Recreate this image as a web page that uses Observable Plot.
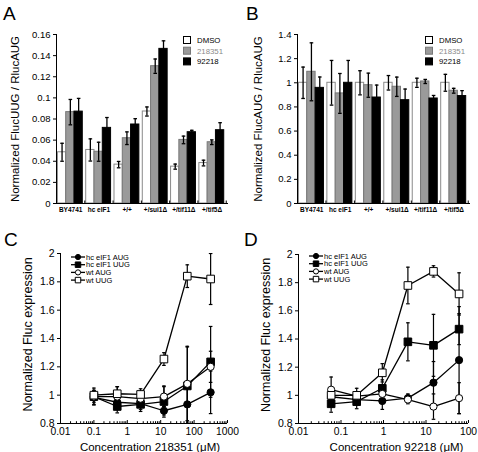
<!DOCTYPE html>
<html><head><meta charset="utf-8">
<script src="https://cdn.jsdelivr.net/npm/d3@7"></script>
<script src="https://cdn.jsdelivr.net/npm/@observablehq/plot@0.6"></script>
<style>
body{margin:0;background:#fff;}
#fig{position:relative;width:478px;height:452px;font-family:"Liberation Sans",Arial,Helvetica,sans-serif;overflow:hidden;background:#fff;color:#000}
.panel{position:absolute}
.letter{position:absolute;font-size:19px;line-height:19px}
.legend{position:absolute;overflow:visible}
</style></head><body><div id="fig"></div>
<script>
const FONT = '"Liberation Sans", Arial, Helvetica, sans-serif';

// ---- Panels A & B: bar charts ----
const categories = ["BY4741", "hc eIF1", "+/+", "+/sui1Δ", "+/tif11Δ", "+/tif5Δ"];
const treatments = ["DMSO", "218351", "92218"];

const uugDMSO      = [0.0485, 0.0507, 0.0368, 0.0871, 0.0349, 0.0383];
const uugDMSOErr   = [0.0085, 0.0105, 0.0030, 0.0043, 0.0024, 0.0027];
const uug218351    = [0.0865, 0.0490, 0.0618, 0.1300, 0.0602, 0.0580];
const uug218351Err = [0.0120, 0.0090, 0.0060, 0.0068, 0.0036, 0.0022];
const uug92218     = [0.0870, 0.0716, 0.0748, 0.1464, 0.0675, 0.0694];
const uug92218Err  = [0.0125, 0.0098, 0.0055, 0.0076, 0.0018, 0.0071];

const augDMSO      = [1.000, 1.000, 1.000, 1.000, 1.000, 1.000];
const augDMSOErr   = [0.130, 0.185, 0.100, 0.060, 0.038, 0.070];
const aug218351    = [1.091, 0.912, 0.980, 0.967, 1.011, 0.934];
const aug218351Err = [0.240, 0.165, 0.100, 0.080, 0.017, 0.020];
const aug92218     = [0.958, 1.000, 0.878, 0.856, 0.870, 0.890];
const aug92218Err  = [0.090, 0.185, 0.103, 0.092, 0.025, 0.045];

const ticksA = [0, 0.02, 0.04, 0.06, 0.08, 0.1, 0.12, 0.14, 0.16];
const ticksB = [0, 0.2, 0.4, 0.6, 0.8, 1, 1.2, 1.4];

// ---- Panels C & D: dose response ----
const seriesNames = ["hc eIF1 AUG", "hc eIF1 UUG", "wt AUG", "wt UUG"];
const concC = [0.1, 0.5, 2.5, 12.5, 62.5, 312.5];
const cHcAUG    = [0.985, 0.950, 0.940, 0.890, 0.935, 1.020];
const cHcAUGErr = [0.050, 0.040, 0.040, 0.030, 0.140, 0.150];
const cHcUUG    = [0.990, 0.920, 0.935, 0.955, 1.065, 1.235];
const cHcUUGErr = [0.060, 0.045, 0.050, 0.110, 0.280, 0.250];
const cWtAUG    = [0.990, 0.990, 0.975, 0.990, 1.080, 1.200];
const cWtAUGErr = [0.040, 0.070, 0.050, 0.070, 0.260, 0.110];
const cWtUUG    = [1.000, 1.010, 1.005, 1.255, 1.840, 1.820];
const cWtUUGErr = [0.030, 0.050, 0.040, 0.045, 0.080, 0.180];

const concD = [0.0586, 0.234, 0.9375, 3.75, 15, 60];
const dHcAUG    = [0.990, 0.970, 0.960, 0.980, 1.090, 1.250];
const dHcAUGErr = [0.040, 0.030, 0.060, 0.030, 0.150, 0.380];
const dHcUUG    = [0.940, 0.955, 1.050, 1.380, 1.355, 1.470];
const dHcUUGErr = [0.060, 0.050, 0.060, 0.135, 0.220, 0.110];
const dWtAUG    = [1.040, 0.995, 1.010, 0.970, 0.920, 0.980];
const dWtAUGErr = [0.090, 0.030, 0.030, 0.030, 0.090, 0.110];
const dWtUUG    = [1.000, 1.000, 1.160, 1.780, 1.880, 1.720];
const dWtUUGErr = [0.030, 0.050, 0.065, 0.130, 0.040, 0.150];

const ticksXC = [0.01, 0.1, 1, 10, 100, 1000];
const ticksXD = [0.01, 0.1, 1, 10, 100];
const ticksYCD = [0.8, 1, 1.2, 1.4, 1.6, 1.8, 2];

// ---- styles ----
const barFill = {"DMSO": "#ffffff", "218351": "#9a9a9a", "92218": "#000000"};
const barStroke = {"DMSO": "#8a8a8a", "218351": "#777777", "92218": "#000000"};
const legendText = {"DMSO": "#000", "218351": "#8a8a8a", "92218": "#000"};
const capSymbol = {draw(ctx, size) { const w = Math.sqrt(size / Math.PI); ctx.moveTo(-w, 0); ctx.lineTo(w, 0); }};
const fmt = d => String(+d.toFixed(2));
const fig = document.getElementById("fig");

function place(node, left, top) {
  node.classList.add("panel");
  node.style.left = left + "px"; node.style.top = top + "px";
  fig.appendChild(node);
}
function letter(txt, left, top) {
  const d = document.createElement("div");
  d.className = "letter"; d.textContent = txt;
  d.style.left = left + "px"; d.style.top = top + "px";
  fig.appendChild(d);
}

const BAR_W = 0.293, GROUP_OFF = 0.05;
function barRows(means, errs) {
  const rows = [];
  categories.forEach((c, i) => treatments.forEach((t, j) => {
    const v = means[j][i], e = errs[j][i];
    const x1 = i + GROUP_OFF + j * BAR_W;
    rows.push({cat: c, t, x1, x2: x1 + BAR_W, xc: x1 + BAR_W / 2, value: v, lo: v - e, hi: v + e});
  }));
  return rows;
}

function barPanel(rows, yDomain, yTicks, yLabel, m) {
  return Plot.plot({
    width: 239, height: 225,
    marginLeft: m.left, marginRight: m.right, marginTop: 34, marginBottom: 22,
    style: {fontFamily: FONT, fontSize: "9.5px", background: "transparent", color: "#000", overflow: "visible"},
    x: {domain: [0, 6.08], axis: null},
    y: {domain: yDomain, axis: null},
    marks: [
      Plot.rectY(rows, {x1: "x1", x2: "x2", y: "value", fill: d => barFill[d.t], stroke: d => barStroke[d.t], strokeWidth: 1}),
      Plot.ruleX(rows, {x: "xc", y1: "lo", y2: "hi", stroke: "#000", strokeWidth: 1.3}),
      Plot.dot(rows, {x: "xc", y: "hi", symbol: capSymbol, r: 1.8, stroke: "#000", strokeWidth: 1.3}),
      Plot.dot(rows, {x: "xc", y: "lo", symbol: capSymbol, r: 1.8, stroke: "#000", strokeWidth: 1.3}),
      Plot.ruleX([0], {stroke: "#000", strokeWidth: 1}),
      Plot.ruleY([yDomain[0]], {stroke: "#000", strokeWidth: 1}),
      Plot.axisY({ticks: yTicks, tickFormat: fmt, tickSize: 3, tickPadding: 3, label: null, fontSize: 9.5}),
      Plot.axisX({ticks: d3.range(1, 7), tickSize: -2.5, fill: "none", label: null}),
      Plot.axisX({ticks: categories.map((c, i) => i + 0.5), tickFormat: v => categories[Math.floor(v)], tickSize: 0, tickPadding: 4, label: null, fontSize: 6.5, fontWeight: "bold"}),
      Plot.text([yLabel], {frameAnchor: "left", textAnchor: "middle", lineAnchor: "middle", rotate: -90, dx: m.labelDx, dy: 0, fontSize: 11.5, text: d => d})
    ]
  });
}

function barLegend(left, top) {
  const svg = d3.create("svg").attr("class", "legend").attr("width", 60).attr("height", 34)
    .style("left", left + "px").style("top", top + "px");
  treatments.forEach((t, j) => {
    const g = svg.append("g").attr("transform", `translate(0.5,${j * 10.7 + 0.5})`);
    g.append("rect").attr("width", 7).attr("height", 7).attr("fill", barFill[t]).attr("stroke", t === "DMSO" ? "#000" : barStroke[t]).attr("stroke-width", 1);
    g.append("text").attr("x", 13.5).attr("y", 3.6).attr("dy", "0.35em").attr("font-size", 7.8)
      .attr("font-family", FONT).attr("fill", legendText[t]).text(t);
  });
  fig.appendChild(svg.node());
}

const rowsA = barRows([uugDMSO, uug218351, uug92218], [uugDMSOErr, uug218351Err, uug92218Err]);
const rowsB = barRows([augDMSO, aug218351, aug92218], [augDMSOErr, aug218351Err, aug92218Err]);

place(barPanel(rowsA, [0, 0.16], ticksA, "Normalized FlucUUG / RlucAUG", {left: 56, right: 11, labelDx: -41}), 0, 0);
place(barPanel(rowsB, [0, 1.4], ticksB, "Normalized FlucAUG / RlucAUG", {left: 58, right: 8, labelDx: -39}), 239, 0);
barLegend(182.5, 36);
barLegend(424.5, 36);

// ---- dose response panels ----
const markerStyle = {
  "hc eIF1 AUG": {symbol: "circle", fill: "#000", r: 3.6},
  "hc eIF1 UUG": {symbol: "square", fill: "#000", r: 4.3},
  "wt AUG": {symbol: "circle", fill: "#fff", r: 3.6},
  "wt UUG": {symbol: "square", fill: "#fff", r: 4.3}
};
function doseRows(conc, means, errs) {
  const rows = [];
  seriesNames.forEach((s, k) => conc.forEach((x, i) => {
    const y = means[k][i], e = errs[k][i];
    rows.push({series: s, x, y, lo: y - e, hi: y + e});
  }));
  return rows;
}
function minorTicks(lo, hi) {
  const out = [];
  for (let p = Math.log10(lo); p < Math.log10(hi); p++) for (let k = 2; k <= 9; k++) out.push(k * Math.pow(10, p));
  return out;
}
function dosePanel(rows, xDomain, xTicks, xLabel, m) {
  const dots = seriesNames.map(s => {
    const st = markerStyle[s];
    return Plot.dot(rows.filter(d => d.series === s), {x: "x", y: "y", symbol: st.symbol, r: st.r, fill: st.fill, stroke: "#000", strokeWidth: 1});
  });
  return Plot.plot({
    width: 239, height: 227,
    marginLeft: m.left, marginRight: m.right, marginTop: m.top, marginBottom: m.bottom,
    style: {fontFamily: FONT, fontSize: "10px", background: "transparent", color: "#000", overflow: "visible"},
    x: {type: "log", domain: xDomain, axis: null},
    y: {domain: [0.8, 2], axis: null},
    marks: [
      Plot.ruleX([xDomain[0]], {stroke: "#000", strokeWidth: 1}),
      Plot.ruleY([0.8], {stroke: "#000", strokeWidth: 1}),
      Plot.axisY({ticks: ticksYCD, tickFormat: fmt, tickSize: 3, tickPadding: 3, label: null, fontSize: 10.5}),
      Plot.axisX({ticks: xTicks, tickSize: -3, fill: "none", label: null}),
      Plot.axisX({ticks: minorTicks(xDomain[0], xDomain[1]), tickSize: -1.8, fill: "none", label: null}),
      Plot.axisX({ticks: xTicks, tickFormat: d => String(d), tickSize: 0, tickPadding: 4, label: null, fontSize: 10.3}),
      Plot.line(rows, {x: "x", y: "y", z: "series", stroke: "#000", strokeWidth: 1.3}),
      Plot.ruleX(rows, {x: "x", y1: "lo", y2: "hi", stroke: "#000", strokeWidth: 1.2, clip: true}),
      Plot.dot(rows, {x: "x", y: "hi", symbol: capSymbol, r: 1.8, stroke: "#000", strokeWidth: 1.2, clip: true}),
      Plot.dot(rows, {x: "x", y: "lo", symbol: capSymbol, r: 1.8, stroke: "#000", strokeWidth: 1.2, clip: true}),
      ...dots,
      Plot.text(["Normalized Fluc expression"], {frameAnchor: "left", textAnchor: "middle", lineAnchor: "middle", rotate: -90, dx: -33, dy: -4, fontSize: 12.5, text: d => d}),
      Plot.text([xLabel], {frameAnchor: "bottom", textAnchor: "middle", lineAnchor: "middle", dx: m.xLabelDx, dy: 23.5, fontSize: 11.5, text: d => d})
    ]
  });
}
function doseLegend(left, top) {
  const svg = d3.create("svg").attr("class", "legend").attr("width", 70).attr("height", 34)
    .style("left", left + "px").style("top", top + "px");
  seriesNames.forEach((s, k) => {
    const st = markerStyle[s];
    const g = svg.append("g").attr("transform", `translate(0,${4 + k * 7.7})`);
    g.append("line").attr("x1", 0).attr("x2", 14).attr("stroke", "#000").attr("stroke-width", 1.3);
    g.append("path").attr("transform", "translate(7,0)")
      .attr("d", d3.symbol(st.symbol === "circle" ? d3.symbolCircle : d3.symbolSquare, Math.PI * (st.r * 0.72) ** 2)())
      .attr("fill", st.fill).attr("stroke", "#000").attr("stroke-width", 1);
    g.append("text").attr("x", 15).attr("dy", "0.35em").attr("font-size", 7.5).attr("font-family", FONT).text(s);
  });
  fig.appendChild(svg.node());
}

const rowsC = doseRows(concC, [cHcAUG, cHcUUG, cWtAUG, cWtUUG], [cHcAUGErr, cHcUUGErr, cWtAUGErr, cWtUUGErr]);
const rowsD = doseRows(concD, [dHcAUG, dHcUUG, dWtAUG, dWtUUG], [dHcAUGErr, dHcUUGErr, dWtAUGErr, dWtUUGErr]);
place(dosePanel(rowsC, [0.01, 1000], ticksXC, "Concentration 218351 (μM)", {left: 60, right: 12, top: 28, bottom: 29, xLabelDx: 6}), 0, 225);
place(dosePanel(rowsD, [0.01, 100], ticksXD, "Concentration 92218 (μM)", {left: 59, right: 10, top: 29, bottom: 29, xLabelDx: 13}), 239, 225);
doseLegend(71, 253);
doseLegend(309, 252);

letter("A", 3, 4);
letter("B", 246, 4);
letter("C", 4, 230);
letter("D", 244, 230);
</script></body></html>
